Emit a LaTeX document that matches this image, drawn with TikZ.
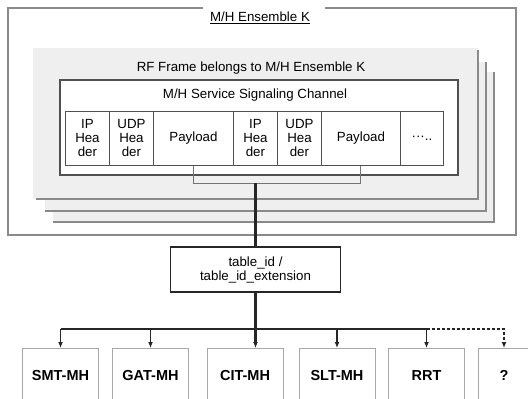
\documentclass[tikz,border=0pt]{standalone}
\usepackage{fontspec}
\setmainfont{Liberation Sans}
\usetikzlibrary{arrows.meta}
\definecolor{framefill}{HTML}{EFEFEF}
\definecolor{edgegray}{HTML}{8A8A8A}
\definecolor{darkline}{HTML}{505050}
\definecolor{boxgray}{HTML}{A8A8A8}
\begin{document}
\begin{tikzpicture}[x=1pt,y=-1pt,
  txt/.style={font=\fontsize{13.3}{14}\selectfont, inner sep=0pt},
  cell/.style={draw=darkline, line width=0.9pt, fill=white, minimum height=54pt, inner sep=0pt, anchor=north west, align=center, font=\fontsize{13.3}{14}\selectfont},
  framebox/.style={fill=framefill, draw=none, anchor=north west, inner sep=0pt, outer sep=0pt},
  frameedge/.style={draw=edgegray, line width=1.4pt},
  outerline/.style={draw=edgegray, line width=1.2pt},
  leaf/.style={draw=boxgray, line width=0.8pt, fill=white, minimum width=76pt, minimum height=54pt, anchor=north, inner sep=0pt, font=\fontsize{14.5}{16}\selectfont\bfseries},
  bus/.style={draw=black!85, line width=1.4pt},
  mainline/.style={draw=black!85, line width=2.2pt},
  bracketline/.style={draw=black!55, line width=1pt},
  tip/.style={-{Latex[length=6pt,width=5pt]}}
]
\useasboundingbox (0,0) rectangle (528,399);

% outer ensemble box with gap for title
\node[txt] (enstitle) at (260,18) {\underline{M/H Ensemble K}};
\coordinate (gapL) at (203,8);
\coordinate (gapR) at (325,8);
\draw[outerline] (gapL) -- (8,8) -- (8,235) -- (516,235) -- (516,8) -- (gapR);

% stacked RF frames
\node[framebox, minimum width=441pt, minimum height=150pt] (f3) at (53,72) {};
\draw[frameedge] (f3.north east) -- (f3.south east) -- (f3.south west);
\node[framebox, minimum width=441pt, minimum height=149pt] (f2) at (45,62) {};
\draw[frameedge] (f2.north east) -- (f2.south east) -- (f2.south west);
\node[framebox, minimum width=445pt, minimum height=151pt] (f1) at (33,48) {};
\draw[frameedge] ([yshift=-2pt]f1.north east) -- (f1.south east) -- ([xshift=3pt]f1.south west);
\node[txt] (rftitle) at (251,68) {RF Frame belongs to M/H Ensemble K};

% signaling channel
\node[draw=darkline, line width=1.5pt, fill=white, anchor=north west, minimum width=398pt, minimum height=95pt, inner sep=0pt] (ssc) at (59,79) {};
\node[txt] (ssctitle) at (255,95) {M/H Service Signaling Channel};

\node[cell, minimum width=44pt] (c1) at (65,111) {IP\\Hea\\der};
\node[cell, minimum width=44pt] (c2) at (109,111) {UDP\\Hea\\der};
\node[cell, minimum width=80pt] (c3) at (153,111) {Payload};
\node[cell, minimum width=44pt] (c4) at (233,111) {IP\\Hea\\der};
\node[cell, minimum width=44pt] (c5) at (277,111) {UDP\\Hea\\der};
\node[cell, minimum width=79pt] (c6) at (321,111) {Payload};
\node[cell, minimum width=43pt] (c7) at (400,111) {···..};

% bracket joining payloads
\coordinate (bj) at (255.5,183);
\draw[bracketline] (c3.south) -- ++(0,18) -| (c6.south);

% table id box
\node[draw=black!85, line width=1.3pt, fill=white, minimum width=170pt, minimum height=45pt, inner sep=0pt, align=center, font=\fontsize{13.3}{14}\selectfont] (tbl) at (255.5,269.5) {table\_id /\\table\_id\_extension};
\draw[mainline] (bj) -- (tbl.north);

% leaf tables
\node[leaf] (smt) at (60.5,348) {SMT-MH};
\node[leaf] (gat) at (150.5,348) {GAT-MH};
\node[leaf] (cit) at (245,348) {CIT-MH};
\node[leaf] (slt) at (337,348) {SLT-MH};
\node[leaf] (rrt) at (426.5,348) {RRT};
\node[leaf, minimum width=52pt] (q) at (504,348) {?};

\coordinate (busY) at (0,329);
\draw[mainline, tip] (tbl.south) -- (tbl.south |- cit.north);
\draw[bus] (smt.north |- busY) -- (rrt.north |- busY);
\draw[bus, tip] (smt.north |- busY) -- (smt.north);
\draw[bus, tip] (gat.north |- busY) -- (gat.north);
\draw[bus, tip] (slt.north |- busY) -- (slt.north);
\draw[bus, tip] (rrt.north |- busY) -- (rrt.north);
\draw[bus, dash pattern=on 3pt off 2pt, tip] (rrt.north |- busY) -- (q.north |- busY) -- (q.north);
\end{tikzpicture}
\end{document}
